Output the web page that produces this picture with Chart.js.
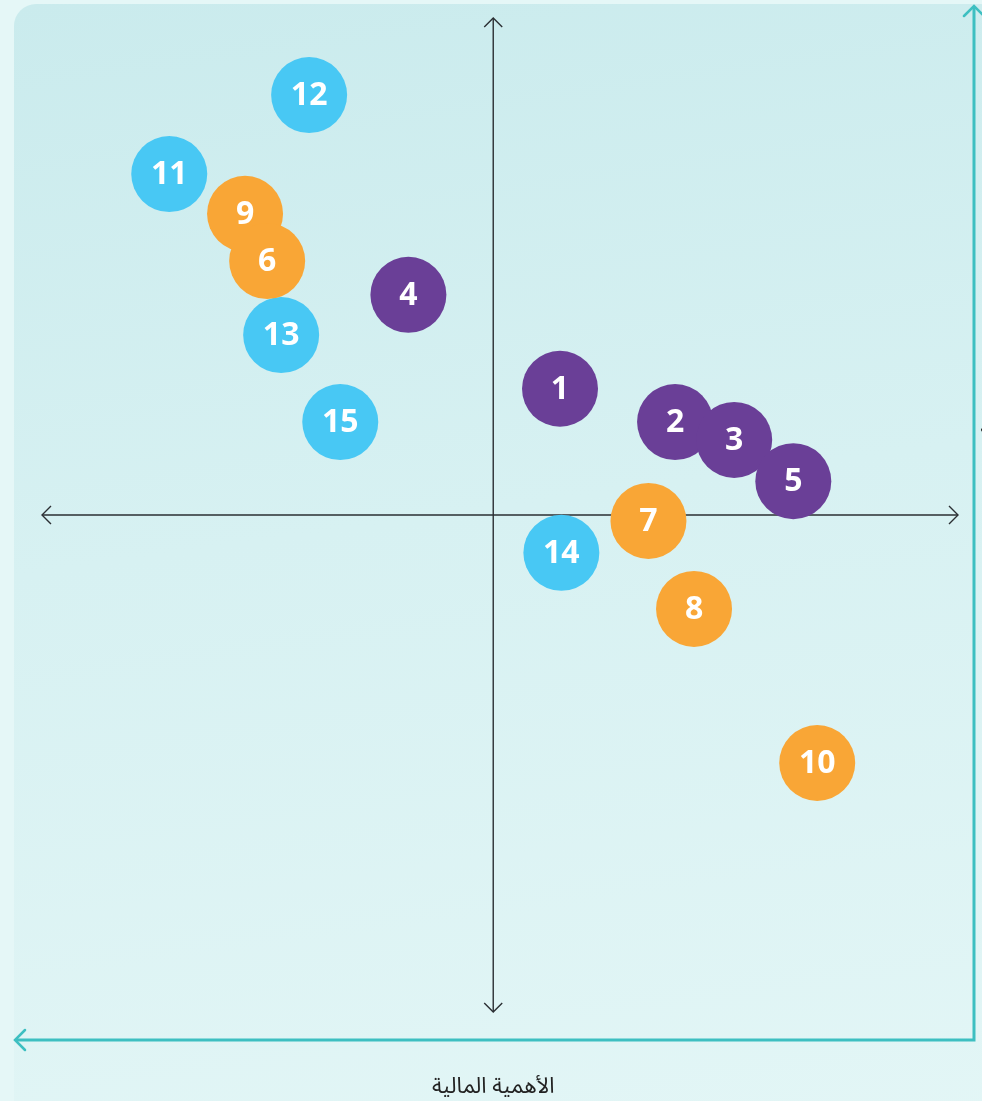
<!DOCTYPE html>
<html lang="ar">
<head>
    <meta charset="UTF-8">
    <title>مصفوفة الأهمية</title>
    <script src="https://cdn.jsdelivr.net/npm/chart.js"></script>
    <style>
        html, body {
            margin: 0;
            padding: 0;
            width: 982px;
            height: 1101px;
            overflow: hidden;
            background: #e5f7f7;
        }
        .panel {
            position: absolute;
            left: 14px;
            top: 4px;
            width: 1010px;
            height: 1130px;
            border-radius: 22px;
            background: linear-gradient(172deg, #caebed 0%, #d7f1f2 45%, #e3f6f6 100%);
        }
        .chart-box {
            position: absolute;
            left: 0;
            top: 0;
            width: 982px;
            height: 1101px;
        }
    </style>
</head>
<body>
    <div class="panel"></div>
    <div class="chart-box">
        <canvas id="matrixChart"></canvas>
    </div>

    <script>
        // Item numbers and positions (x = right of centre, y = above centre)
        const purpleIds = [1, 2, 3, 4, 5];
        const purpleX = [1.48, 4.03, 5.34, -1.88, 6.65];
        const purpleY = [2.54, 1.87, 1.51, 4.43, 0.68];

        const orangeIds = [9, 6, 7, 8, 10];
        const orangeX = [-5.50, -5.01, 3.44, 4.45, 7.18];
        const orangeY = [6.06, 5.11, -0.12, -1.89, -4.99];

        const blueIds = [11, 12, 13, 14, 15];
        const blueX = [-7.18, -4.08, -4.70, 1.51, -3.39];
        const blueY = [6.86, 8.45, 3.62, -0.76, 1.87];

        const xLabel = 'الأهمية المالية';
        const yLabel = 'الأهمية الاجتماعية';

        function toPoints(ids, xs, ys) {
            return ids.map((id, i) => ({ x: xs[i], y: ys[i], id: id }));
        }

        // Arrow head helper (open chevron)
        function arrowHead(ctx, x, y, dir, size) {
            ctx.beginPath();
            if (dir === 'up') {
                ctx.moveTo(x - size, y + size); ctx.lineTo(x, y); ctx.lineTo(x + size, y + size);
            } else if (dir === 'down') {
                ctx.moveTo(x - size, y - size); ctx.lineTo(x, y); ctx.lineTo(x + size, y - size);
            } else if (dir === 'left') {
                ctx.moveTo(x + size, y - size); ctx.lineTo(x, y); ctx.lineTo(x + size, y + size);
            } else {
                ctx.moveTo(x - size, y - size); ctx.lineTo(x, y); ctx.lineTo(x - size, y + size);
            }
            ctx.stroke();
        }

        // Cross axes through the origin plus the teal frame axes
        const axesPlugin = {
            id: 'axesPlugin',
            beforeDatasetsDraw(chart) {
                const ctx = chart.ctx;
                const area = chart.chartArea;
                const x0 = chart.scales.x.getPixelForValue(0);
                const y0 = chart.scales.y.getPixelForValue(0);
                ctx.save();

                // teal frame
                ctx.strokeStyle = '#3dbfc1';
                ctx.lineWidth = 3;
                ctx.lineCap = 'round';
                ctx.beginPath();
                ctx.moveTo(16, 1040);
                ctx.lineTo(974, 1040);
                ctx.lineTo(974, 7);
                ctx.stroke();
                ctx.lineWidth = 2.5;
                arrowHead(ctx, 15, 1040, 'left', 10);
                arrowHead(ctx, 974, 6, 'up', 10);

                // centre cross
                ctx.strokeStyle = '#2b2f33';
                ctx.lineWidth = 1.4;
                ctx.lineCap = 'butt';
                ctx.beginPath();
                ctx.moveTo(area.left, y0);
                ctx.lineTo(area.right, y0);
                ctx.moveTo(x0, area.top);
                ctx.lineTo(x0, area.bottom);
                ctx.stroke();
                arrowHead(ctx, area.left, y0, 'left', 9);
                arrowHead(ctx, area.right, y0, 'right', 9);
                arrowHead(ctx, x0, area.top, 'up', 9);
                arrowHead(ctx, x0, area.bottom, 'down', 9);

                // axis titles
                ctx.fillStyle = '#222';
                ctx.font = '22px "Noto Sans Arabic", "DejaVu Sans", sans-serif';
                ctx.textAlign = 'center';
                ctx.textBaseline = 'middle';
                ctx.direction = 'rtl';
                ctx.fillText(xLabel, x0, 1090);
                ctx.translate(996, 492);
                ctx.rotate(-Math.PI / 2);
                ctx.fillText(yLabel, 0, 0);
                ctx.restore();
            },
            afterDatasetsDraw(chart) {
                const ctx = chart.ctx;
                ctx.save();
                ctx.fillStyle = '#ffffff';
                ctx.font = 'bold 32px "Open Sans", "Noto Sans", sans-serif';
                ctx.textAlign = 'center';
                ctx.textBaseline = 'middle';
                chart.data.datasets.forEach((ds, di) => {
                    const meta = chart.getDatasetMeta(di);
                    meta.data.forEach((pt, i) => {
                        ctx.fillText(String(ds.data[i].id), pt.x, pt.y + 1);
                    });
                });
                ctx.restore();
            }
        };

        const commonPoint = {
            pointRadius: 38,
            pointHoverRadius: 38,
            borderWidth: 0,
            clip: false
        };

        new Chart(document.getElementById('matrixChart').getContext('2d'), {
            type: 'scatter',
            data: {
                datasets: [
                    Object.assign({
                        label: 'purple',
                        data: toPoints(purpleIds, purpleX, purpleY),
                        backgroundColor: '#6a3f97'
                    }, commonPoint),
                    Object.assign({
                        label: 'orange',
                        data: toPoints(orangeIds, orangeX, orangeY),
                        backgroundColor: '#f9a636'
                    }, commonPoint),
                    Object.assign({
                        label: 'blue',
                        data: toPoints(blueIds, blueX, blueY),
                        backgroundColor: '#48c8f4'
                    }, commonPoint)
                ]
            },
            options: {
                responsive: true,
                maintainAspectRatio: false,
                animation: false,
                events: [],
                layout: {
                    autoPadding: false,
                    padding: { left: 42, right: 24, top: 18, bottom: 89 }
                },
                plugins: {
                    legend: { display: false },
                    tooltip: { enabled: false }
                },
                scales: {
                    x: { type: 'linear', min: -10, max: 10.3, display: false },
                    y: { type: 'linear', min: -10, max: 10, display: false }
                }
            },
            plugins: [axesPlugin]
        });
    </script>
</body>
</html>
